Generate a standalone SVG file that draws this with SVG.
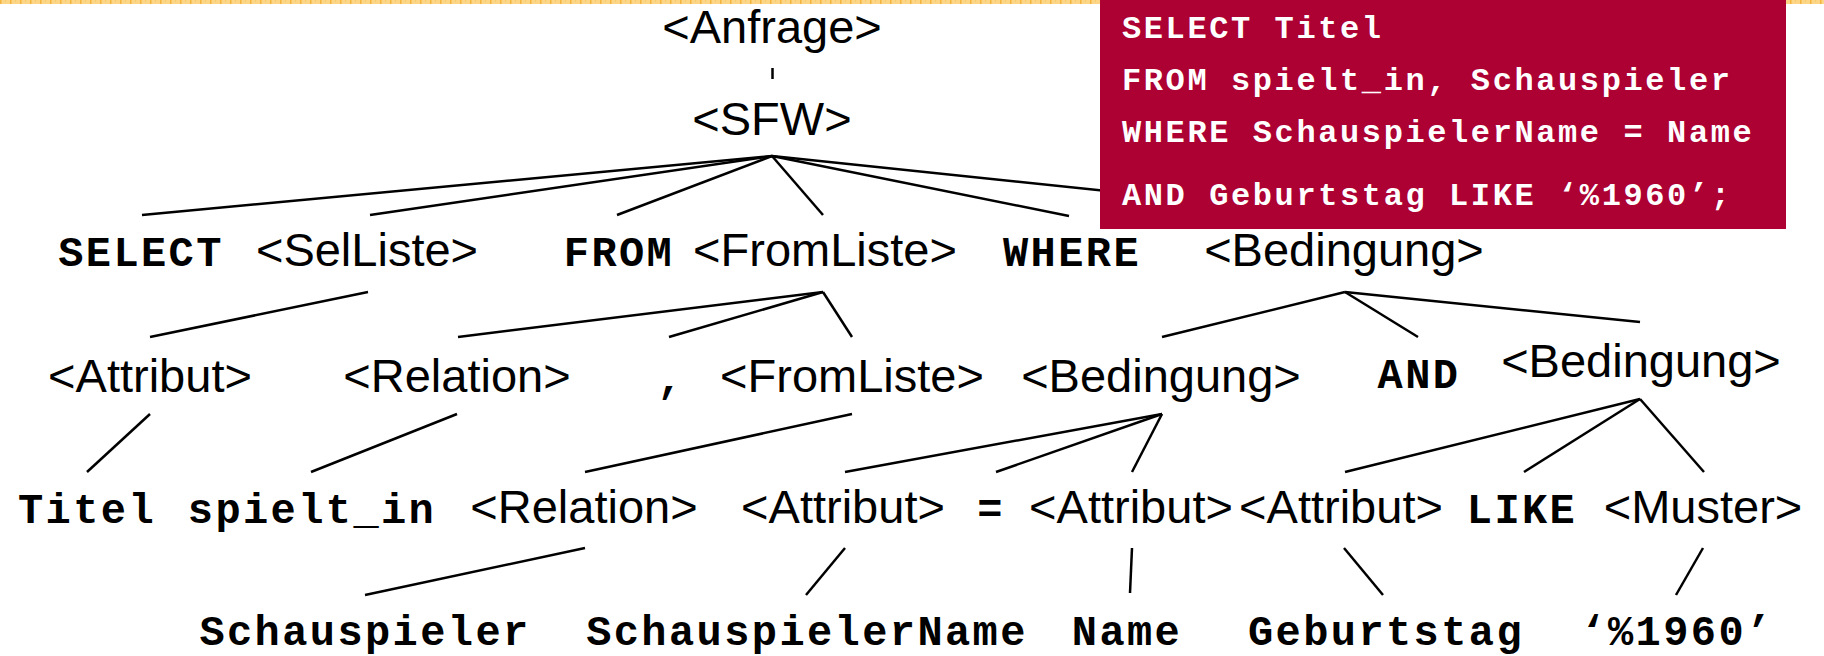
<svg xmlns="http://www.w3.org/2000/svg" width="1824" height="656" viewBox="0 0 1824 656">
<defs>
<pattern id="band" x="0" y="0" width="10" height="4" patternUnits="userSpaceOnUse">
<rect width="10" height="4" fill="#FDD586"/>
<rect x="0" width="1.5" height="4" fill="#F3B43E"/>
<rect x="5" y="0" width="1" height="2" fill="#F8C968"/>
</pattern>
<style>
.s{font-family:"Liberation Sans",Arial,sans-serif;font-size:47px;fill:#000;text-anchor:middle}
.m{font-family:"Liberation Mono","Courier New",monospace;font-weight:bold;font-size:42px;letter-spacing:2.4px;fill:#000;text-anchor:middle}
.q{font-family:"Liberation Mono","Courier New",monospace;font-weight:bold;font-size:32px;letter-spacing:2.6px;fill:#fff}
#edges line{stroke:#000;stroke-width:2.5;stroke-linecap:butt}
</style>
</defs>
<rect x="0" y="0" width="1824" height="656" fill="#fff"/>
<rect x="0" y="0" width="1824" height="4" fill="url(#band)"/>
<g id="edges">
<line x1="772.5" y1="68" x2="772.5" y2="79"/>
<line x1="772" y1="156" x2="142" y2="215"/>
<line x1="772" y1="156" x2="370" y2="215"/>
<line x1="772" y1="156" x2="617" y2="215"/>
<line x1="772" y1="156" x2="823" y2="215"/>
<line x1="772" y1="156" x2="1069" y2="216"/>
<line x1="772" y1="156" x2="1345" y2="216"/>
<line x1="368" y1="292" x2="150" y2="337"/>
<line x1="823" y1="292" x2="458" y2="337"/>
<line x1="823" y1="292" x2="669" y2="337"/>
<line x1="823" y1="292" x2="852" y2="337"/>
<line x1="1345" y1="292" x2="1162" y2="337"/>
<line x1="1345" y1="292" x2="1418" y2="337"/>
<line x1="1345" y1="292" x2="1640" y2="322"/>
<line x1="150" y1="414" x2="87" y2="472"/>
<line x1="457" y1="414" x2="311" y2="472"/>
<line x1="852" y1="414" x2="585" y2="472"/>
<line x1="1162" y1="414" x2="845" y2="472"/>
<line x1="1162" y1="414" x2="996" y2="472"/>
<line x1="1162" y1="414" x2="1132" y2="472"/>
<line x1="1640" y1="399" x2="1345" y2="472"/>
<line x1="1640" y1="399" x2="1524" y2="472"/>
<line x1="1640" y1="399" x2="1704" y2="472"/>
<line x1="585" y1="548" x2="365" y2="595"/>
<line x1="845" y1="548" x2="806" y2="595"/>
<line x1="1132" y1="548" x2="1130" y2="593"/>
<line x1="1344" y1="548" x2="1383" y2="595"/>
<line x1="1703" y1="548" x2="1676" y2="595"/>
</g>
<g id="n-anfrage"><text class="s" x="772" y="43">&lt;Anfrage&gt;</text></g>
<g id="n-sfw"><text class="s" x="772" y="135">&lt;SFW&gt;</text></g>
<g id="n-select"><text class="m" x="141" y="266">SELECT</text></g>
<g id="n-selliste"><text class="s" x="367" y="266">&lt;SelListe&gt;</text></g>
<g id="n-from"><text class="m" x="619" y="266">FROM</text></g>
<g id="n-fromliste"><text class="s" x="825" y="266">&lt;FromListe&gt;</text></g>
<g id="n-where"><text class="m" x="1072" y="266">WHERE</text></g>
<g id="n-bedingung"><text class="s" x="1344" y="266">&lt;Bedingung&gt;</text></g>
<g id="n-attribut1"><text class="s" x="150" y="392">&lt;Attribut&gt;</text></g>
<g id="n-relation1"><text class="s" x="457" y="392">&lt;Relation&gt;</text></g>
<g id="n-comma"><text class="m" x="671" y="392">,</text></g>
<g id="n-fromliste2"><text class="s" x="852" y="392">&lt;FromListe&gt;</text></g>
<g id="n-bedingung2"><text class="s" x="1161" y="392">&lt;Bedingung&gt;</text></g>
<g id="n-and"><text class="m" x="1419" y="388">AND</text></g>
<g id="n-bedingung3"><text class="s" x="1641" y="377">&lt;Bedingung&gt;</text></g>
<g id="n-titel"><text class="m" x="87" y="523">Titel</text></g>
<g id="n-spielt"><text class="m" x="312" y="523">spielt_in</text></g>
<g id="n-relation2"><text class="s" x="584" y="523">&lt;Relation&gt;</text></g>
<g id="n-attribut2"><text class="s" x="843" y="523">&lt;Attribut&gt;</text></g>
<g id="n-eq"><text class="m" x="991" y="523">=</text></g>
<g id="n-attribut3"><text class="s" x="1131" y="523">&lt;Attribut&gt;</text></g>
<g id="n-attribut4"><text class="s" x="1341" y="523">&lt;Attribut&gt;</text></g>
<g id="n-like"><text class="m" x="1522" y="523">LIKE</text></g>
<g id="n-muster"><text class="s" x="1703" y="523">&lt;Muster&gt;</text></g>
<g id="n-schauspieler"><text class="m" x="365" y="645">Schauspieler</text></g>
<g id="n-schauspielername"><text class="m" x="807" y="645">SchauspielerName</text></g>
<g id="n-name"><text class="m" x="1127" y="645">Name</text></g>
<g id="n-geburtstag"><text class="m" x="1386" y="645">Geburtstag</text></g>
<g id="n-muster-val"><text class="m" x="1677" y="645">‘%1960’</text></g>
<g id="sqlbox">
<rect x="1100" y="0" width="686" height="229" fill="#AD0033"/>
<text class="q" x="1122" y="38">SELECT Titel</text>
<text class="q" x="1122" y="90">FROM spielt_in, Schauspieler</text>
<text class="q" x="1122" y="142">WHERE SchauspielerName = Name</text>
<text class="q" x="1122" y="205">AND Geburtstag LIKE ‘%1960’;</text>
</g>
</svg>
